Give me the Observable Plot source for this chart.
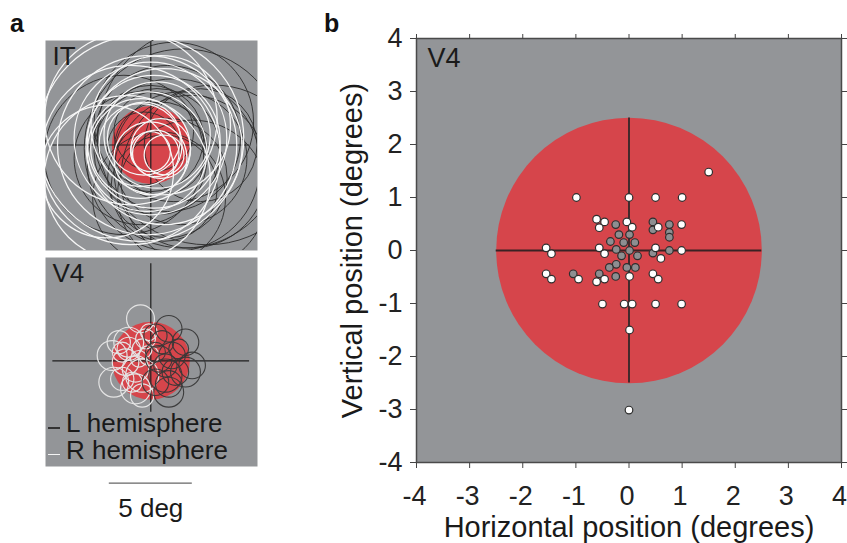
<!DOCTYPE html>
<html><head><meta charset="utf-8">
<script src="https://cdn.jsdelivr.net/npm/d3@7"></script>
<script src="https://cdn.jsdelivr.net/npm/@observablehq/plot@0.6"></script>
<style>
body{margin:0;background:#fff;font-family:"Liberation Sans",Arial,sans-serif;color:#222;}
#wrap{position:relative;width:847px;height:543px;overflow:hidden;background:#fff;}
.lbl{font-family:"Liberation Sans Narrow","Liberation Sans",Arial,sans-serif;font-weight:bold;font-size:25px;line-height:25px;color:#111;}
.leg{font-size:26px;line-height:26px;color:#1a1a1a;white-space:nowrap;}
.dash{position:absolute;height:1.6px;}
</style></head><body><div id="wrap"></div>
<script>
// ---------- data ----------
const ticks = [-4, -3, -2, -1, 0, 1, 2, 3, 4];
const stimRadiusB = 2.5;      // stimulus radius in panel b (deg)
const stimRadiusA = 2.35;     // stimulus radius as drawn in panel a (deg)
const scaleBarDeg = 5;

// panel b: V4 RF centres (deg), white and gray markers
const v4White = [
  [1.5, 1.48], [-0.99, 1.0], [0, 1.0], [0.5, 1.0], [1.0, 1.0],
  [-0.61, 0.59], [-0.46, 0.54], [-0.56, 0.43], [-0.04, 0.54], [0.06, 0.44], [0.55, 0.44], [0.99, 0.49],
  [-1.56, 0.05], [-1.46, -0.06], [-0.56, 0.05], [-0.46, -0.06], [0.5, 0.05], [0.6, -0.15], [0.99, 0.0],
  [-1.56, -0.44], [-1.46, -0.54], [-0.95, -0.54], [-0.46, -0.54], [-0.61, -0.59], [0.01, -0.49], [0.45, -0.44], [0.55, -0.54],
  [-0.5, -1.01], [-0.09, -1.01], [0.06, -1.01], [0.5, -1.01], [0.99, -1.01],
  [0.01, -1.5], [0.0, -3.01]
];
const v4Gray = [
  [-0.25, 0.49], [0.45, 0.54], [0.45, 0.39], [0.76, 0.49], [0.76, 0.34], [0.76, 0.25],
  [-0.19, 0.30], [0.01, 0.30], [-0.35, 0.17], [-0.10, 0.15], [0.11, 0.15],
  [-0.24, 0.02], [0.01, 0.0], [-0.14, -0.10], [0.16, -0.10], [0.45, -0.05], [0.76, 0.0],
  [-0.24, -0.26], [-0.37, -0.32], [-0.04, -0.32], [0.12, -0.32], [-0.25, -0.49], [-0.56, -0.44], [-1.05, -0.44]
];

// panel a: receptive fields [x, y, radius] in degrees
const itRight = [ // white circles (R hemisphere)
  [-0.6, 0.4, 6.2], [-1.42, -2.02, 5.0], [-0.22, -0.01, 5.4], [-0.02, 0.39, 4.6], [0.18, 0.19, 4.0],
  [-0.22, -0.40, 3.6], [-0.62, -0.21, 3.0], [0.38, 0.60, 3.2], [-0.62, 0.0, 2.5], [-0.02, -0.8, 2.2],
  [0.6, -0.21, 1.8], [0.3, -0.51, 1.4], [-0.02, -0.4, 1.2], [0.8, -0.6, 1.2], [-0.42, 0.39, 2.2],
  [-1.2, -0.6, 5.4], [-2.63, -1.6, 4.0], [0.6, 1.19, 4.2], [0.8, -0.1, 4.7], [-1.2, 1.6, 5.2]
];
const itLeft = [ // dark circles (L hemisphere)
  [1.99, -0.21, 6.0], [3.4, 0.59, 6.6], [1.39, -1.21, 5.2], [1.0, 0.39, 4.4], [0.38, -0.4, 3.8],
  [1.79, -0.8, 4.0], [-0.02, 0.39, 3.2], [0.6, -0.21, 2.8], [2.39, -1.61, 4.6], [-0.62, -0.8, 4.0],
  [1.0, -1.99, 3.6], [3.0, -0.01, 3.4], [0.18, 0.8, 2.4], [-1.62, -0.6, 4.8], [1.39, 1.39, 4.8],
  [3.8, -1.99, 5.6], [-0.42, -0.21, 2.2], [0.8, -2.6, 3.2], [2.5, -3.0, 4.5], [0.5, -3.2, 4.0]
];
const v4Right = [ // white circles
  [-0.62, 2.53, 0.84], [-1.33, 1.12, 0.9], [-2.33, 0.32, 0.9], [-2.23, -1.29, 0.9], [-0.92, -1.69, 0.9],
  [-0.52, -2.09, 0.7], [-0.52, -0.89, 1.0], [-1.52, -0.08, 0.8], [-1.33, 0.72, 0.7], [-0.52, 0.72, 0.6],
  [-0.32, 1.32, 0.6], [-0.92, -0.48, 0.8], [-1.72, -1.09, 0.7], [-0.12, 1.72, 0.5], [-0.72, 0.12, 0.5],
  [-1.72, 0.52, 0.6], [-1.12, -1.29, 0.6], [-0.12, 0.32, 0.6], [-1.93, 1.12, 0.7]
];
const v4Left = [ // dark circles
  [1.08, 1.93, 0.8], [2.09, 1.12, 0.8], [2.49, -0.28, 0.8], [2.09, -0.68, 0.9], [1.08, -1.89, 0.9],
  [0.88, -0.89, 1.0], [0.48, 0.12, 0.8], [1.28, 0.32, 0.8], [0.68, 1.12, 0.7], [0.28, 1.52, 0.7],
  [1.48, -0.68, 0.8], [0.28, -1.29, 0.8], [0.88, -0.28, 0.7], [1.68, 0.72, 0.6], [0.28, 0.52, 0.6],
  [1.08, -1.39, 0.8]
];

// ---------- style ----------
const GRAY = "#939598", RED = "#d6454b";
const FONT = "Liberation Sans, Arial, sans-serif";
const wrap = document.getElementById("wrap");
function place(el, left, top) { el.style.position = "absolute"; el.style.left = left + "px"; el.style.top = top + "px"; wrap.appendChild(el); return el; }

// ---------- panel b ----------
const bW = 517, bH = 543, bML = 86, bMR = 6, bMT = 38, bMB = 81;
const pxPerDegB = (bW - bML - bMR) / (ticks[ticks.length - 1] - ticks[0]);
const fmt = d => String(d);
const plotB = Plot.plot({
  width: bW, height: bH, marginLeft: bML, marginRight: bMR, marginTop: bMT, marginBottom: bMB,
  x: {domain: [ticks[0], ticks[ticks.length - 1]]},
  y: {domain: [ticks[0], ticks[ticks.length - 1]]},
  r: {type: "linear", domain: [0, 1], range: [0, pxPerDegB]},
  style: {fontFamily: FONT, fontSize: "27px", background: "transparent", color: "#222", overflow: "visible"},
  marks: [
    Plot.frame({fill: GRAY, stroke: "none"}),
    Plot.dot([{x: 0, y: 0, r: stimRadiusB}], {x: "x", y: "y", r: "r", fill: RED, stroke: "none"}),
    Plot.ruleY([0], {x1: -stimRadiusB, x2: stimRadiusB, stroke: "#3a2224", strokeWidth: 2.2}),
    Plot.ruleX([0], {y1: -stimRadiusB, y2: stimRadiusB, stroke: "#2a2526", strokeWidth: 1.7}),
    Plot.dot(v4Gray, {x: d => d[0], y: d => d[1], r: 3.8, fill: "#8d8e91", stroke: "#2e2e2e", strokeWidth: 1.2}),
    Plot.dot(v4White, {x: d => d[0], y: d => d[1], r: 3.8, fill: "#ffffff", stroke: "#2e2e2e", strokeWidth: 1.2}),
    Plot.frame({stroke: "#4a4a4a", strokeWidth: 1.5}),
    Plot.axisX(ticks, {anchor: "bottom", tickSize: 6, tickFormat: () => "", label: null, stroke: "#444"}),
    Plot.axisX(ticks, {anchor: "bottom", tickSize: 0, tickPadding: 23, fontSize: 27, dx: -2, tickFormat: fmt, label: null, stroke: "none"}),
    Plot.axisX(ticks, {anchor: "top", tickSize: 5, tickFormat: () => "", label: null, stroke: "#444"}),
    Plot.axisY(ticks, {anchor: "left", tickSize: 6, tickPadding: 8, fontSize: 27, tickFormat: fmt, label: null, stroke: "#444"}),
    Plot.axisY(ticks, {anchor: "right", tickSize: 5, tickFormat: () => "", label: null, stroke: "#444"}),
    Plot.text(["Horizontal position (degrees)"], {text: d => d, frameAnchor: "bottom", dy: 65, fontSize: 29, textAnchor: "middle", lineAnchor: "middle", fill: "#1a1a1a"}),
    Plot.text(["Vertical position (degrees)"], {text: d => d, frameAnchor: "left", dx: -64, rotate: -90, fontSize: 29, textAnchor: "middle", lineAnchor: "middle", fill: "#1a1a1a"}),
    Plot.text(["V4"], {text: d => d, frameAnchor: "top-left", dx: 11, dy: 20, fontSize: 27, textAnchor: "start", lineAnchor: "middle", fill: "#1a1a1a"})
  ]
});
place(plotB, 330, 0);

// ---------- panel a ----------
const aPx = 16.6; // pixels per degree in panel a
function rfPanel({w, h, mb, x0, y0Top, name, nameDy, white, dark, whiteFirst, vTop, vBottom, extra}) {
  const fh = h - mb;
  const xd = [-x0 / aPx, (w - x0) / aPx];
  const yd = [-(fh - y0Top) / aPx, y0Top / aPx];
  const circ = (data, stroke, sw, op) => Plot.dot(data, {x: d => d[0], y: d => d[1], r: d => d[2], fill: "none", stroke, strokeWidth: sw, strokeOpacity: op, clip: true});
  const layers = whiteFirst
    ? [circ(white.data, white.color, white.sw, 1), circ(dark.data, dark.color, dark.sw, dark.op)]
    : [circ(dark.data, dark.color, dark.sw, dark.op), circ(white.data, white.color, white.sw, 1)];
  return Plot.plot({
    width: w, height: h, margin: 0, marginBottom: mb,
    x: {domain: xd, axis: null}, y: {domain: yd, axis: null},
    r: {type: "linear", domain: [0, 1], range: [0, aPx]},
    style: {fontFamily: FONT, background: "transparent", overflow: "visible"},
    marks: [
      Plot.frame({fill: GRAY, stroke: "none"}),
      Plot.dot([{x: 0, y: 0, r: stimRadiusA}], {x: "x", y: "y", r: "r", fill: RED, stroke: "none"}),
      Plot.ruleY([0], {x1: -5.9, x2: 5.95, stroke: "#1e1e1e", strokeWidth: 1.2, clip: true}),
      Plot.ruleX([0], {y1: vBottom, y2: vTop, stroke: "#1e1e1e", strokeWidth: 1.2, clip: true}),
      ...layers,
      Plot.text([name], {text: d => d, frameAnchor: "top-left", dx: 7, dy: nameDy, fontSize: 26, textAnchor: "start", lineAnchor: "middle", fill: "#1a1a1a"}),
      ...(extra || [])
    ]
  });
}
const itPlot = rfPanel({
  w: 212, h: 210, mb: 0, x0: 105.3, y0Top: 104.5, name: "IT", nameDy: 16,
  white: {data: itRight, color: "#f7f7f7", sw: 1.25},
  dark: {data: itLeft, color: "#2c2c2c", sw: 1.0, op: 0.9},
  whiteFirst: false, vTop: 6.2, vBottom: -5.9
});
place(itPlot, 45, 40);

const v4Plot = rfPanel({
  w: 212, h: 286, mb: 77, x0: 105.3, y0Top: 103.3, name: "V4", nameDy: 16,
  white: {data: v4Right, color: "#e4e4e4", sw: 1.2},
  dark: {data: v4Left, color: "#383838", sw: 1.1, op: 0.95},
  whiteFirst: true, vTop: 5.84, vBottom: -3.1,
  extra: [
    Plot.ruleY([-7.37], {x1: -scaleBarDeg / 2, x2: scaleBarDeg / 2, stroke: "#666", strokeWidth: 1.3}),
    Plot.text([scaleBarDeg + " deg"], {text: d => d, x: () => 0, frameAnchor: "bottom", dy: 42, fontSize: 26, textAnchor: "middle", lineAnchor: "middle", fill: "#1a1a1a"})
  ]
});
place(v4Plot, 45, 257);

// legend
const legL = document.createElement("div"); legL.className = "leg"; legL.textContent = "L hemisphere"; place(legL, 66, 410);
const legR = document.createElement("div"); legR.className = "leg"; legR.textContent = "R hemisphere"; place(legR, 66, 437);
const dL = document.createElement("div"); dL.className = "dash"; dL.style.width = "12px"; dL.style.background = "#333"; place(dL, 47.5, 427);
const dR = document.createElement("div"); dR.className = "dash"; dR.style.width = "12px"; dR.style.background = "#f4f4f4"; place(dR, 47.5, 453.5);

// panel letters
const la = document.createElement("div"); la.className = "lbl"; la.textContent = "a"; place(la, 10, 11);
const lb = document.createElement("div"); lb.className = "lbl"; lb.textContent = "b"; place(lb, 324, 11);
</script></body></html>
